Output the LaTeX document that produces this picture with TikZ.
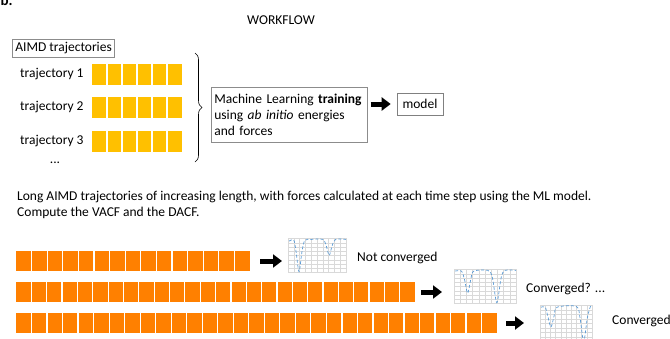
\documentclass[tikz,border=0pt]{standalone}
\usepackage{fontspec}
\setmainfont{Carlito}
\usetikzlibrary{arrows.meta, decorations.pathreplacing, positioning}
\definecolor{cellyellow}{HTML}{FFC000}
\definecolor{cellorange}{HTML}{FF8000}
\definecolor{boxgray}{HTML}{8C8C8C}
\definecolor{gridgray}{HTML}{D9D9D9}
\definecolor{plotblue}{HTML}{5B9BD5}

% white gaps between the cells of one trajectory
\newcommand{\cellseps}[3]{%
    \foreach \i in {1,...,#2}
        \draw[cellsep] ([xshift=\i*#3 pt]#1.north west) -- ([xshift=\i*#3 pt]#1.south west);}
% small correlation function plot inside a thumbnail node
\newcommand{\acfthumb}[4]{%
    \begin{scope}[shift={(#1.south west)}, x=#2pt, y=#3pt]
        \draw[gridline] (0,0) grid[xstep=0.1, ystep=0.125] (1,1);
        \draw[acfcurve] plot[smooth, tension=0.5] coordinates {#4};
    \end{scope}}

\begin{document}
\begin{tikzpicture}[x=1pt, y=-1pt, font=\fontsize{13.5}{16}\selectfont,
    labelbox/.style={draw=boxgray, line width=0.6pt, inner sep=3pt},
    yrow/.style={fill=cellyellow, inner sep=0pt, minimum height=21pt, anchor=west},
    orow/.style={fill=cellorange, inner sep=0pt, minimum height=20pt, anchor=west},
    cellsep/.style={white, line width=1.2pt},
    blockarrow/.style={line width=5pt, -{Triangle[length=9pt, width=13pt]}},
    thumb/.style={draw=gridgray, line width=0.4pt, inner sep=0pt, anchor=north west},
    gridline/.style={gridgray, line width=0.25pt},
    acfcurve/.style={plotblue, densely dashed, line width=0.7pt}]
    \useasboundingbox (0,0) rectangle (670,338);
    %
    \node[font=\fontsize{15}{15}\bfseries\selectfont, anchor=base west] (tag) at (-3,5) {b.};
    \node (workflow) at (281,20) {WORKFLOW};
    %
    \node[labelbox, anchor=west] (aimd) at (12,48) {AIMD trajectories};
    \node[anchor=west, inner sep=0pt] (traj1) at (20,74) {trajectory 1};
    \node[anchor=west, inner sep=0pt] (traj2) at (20,107.5) {trajectory 2};
    \node[anchor=west, inner sep=0pt] (traj3) at (20,141) {trajectory 3};
    \node[inner sep=0pt] (dots) at (55,163) {...};
    %
    \node[yrow, minimum width=90pt] (yrow1) at (92,74) {};
    \node[yrow, minimum width=90pt] (yrow2) at (92,107.5) {};
    \node[yrow, minimum width=90pt] (yrow3) at (92,141) {};
    \cellseps{yrow1}{5}{15}
    \cellseps{yrow2}{5}{15}
    \cellseps{yrow3}{5}{15}
    %
    \coordinate (bracetop) at (195,53);
    \coordinate (bracebot) at (195,162);
    \draw[black, line width=0.6pt, decoration={brace, amplitude=7pt}, decorate] (bracetop) -- (bracebot);
    %
    \node[labelbox, anchor=north west, text width=150pt, inner xsep=3pt, minimum height=55pt, align=left] (training) at (211,87)
        {Machine Learning \mbox{\textbf{training}}\\ using \textit{ab initio} energies\\ and forces};
    \node[labelbox, draw=gray, minimum width=46pt, minimum height=22pt] (model) at (420,104) {model};
    \draw[blockarrow, shorten <=3pt, shorten >=6pt] (training.east |- model) -- (model);
    %
    \node[anchor=north west, inner sep=0pt, align=left] (task) at (17,191)
        {Long AIMD trajectories of increasing length, with forces calculated at each time step using the ML model.\\
         Compute the VACF and the DACF.};
    %
    \node[orow, minimum width=234pt] (orow1) at (16,261) {};
    \node[orow, minimum width=399pt] (orow2) at (16,292) {};
    \node[orow, minimum width=481pt] (orow3) at (16,323) {};
    \cellseps{orow1}{14}{15.6}
    \cellseps{orow2}{25}{15.35}
    \cellseps{orow3}{30}{15.52}
    %
    \node[thumb, minimum width=58pt, minimum height=34pt] (thumb1) at (288,238) {};
    \node[thumb, minimum width=62pt, minimum height=34pt] (thumb2) at (454,269) {};
    \node[thumb, minimum width=52pt, minimum height=36pt] (thumb3) at (540,305) {};
    \acfthumb{thumb1}{58}{34}{(0.02,0.92) (0.1,0.95) (0.14,0.6) (0.19,0.02) (0.24,0.6) (0.29,0.94) (0.4,0.97) (0.6,0.97) (0.66,0.78) (0.71,0.5) (0.76,0.78) (0.82,0.97) (1,0.97)}
    \acfthumb{thumb2}{62}{34}{(0.02,0.95) (0.12,0.95) (0.17,0.7) (0.22,0.3) (0.27,0.7) (0.32,0.95) (0.55,0.97) (0.62,0.75) (0.69,0.02) (0.76,0.75) (0.82,0.97) (1,0.97)}
    \acfthumb{thumb3}{52}{36}{(0.02,0.95) (0.1,0.95) (0.15,0.7) (0.21,0.4) (0.27,0.7) (0.33,0.95) (0.7,0.97) (0.77,0.65) (0.84,0.0) (0.91,0.65) (0.97,0.97) (1,0.97)}
    %
    \draw[blockarrow, shorten <=10pt, shorten >=6pt] (orow1.east) -- (orow1.east -| thumb1.west);
    \draw[blockarrow, shorten <=6pt, shorten >=12pt] (orow2.east) -- (orow2.east -| thumb2.west);
    \draw[blockarrow, shorten <=9pt, shorten >=16pt] (orow3.east) -- (orow3.east -| thumb3.west);
    %
    \node[anchor=west, inner sep=0pt] (status1) at (357,258) {Not converged};
    \node[anchor=west, inner sep=0pt] (status2) at (526,289) {Converged? ...};
    \node[anchor=west, inner sep=0pt] (status3) at (612,321) {Converged};
\end{tikzpicture}
\end{document}
